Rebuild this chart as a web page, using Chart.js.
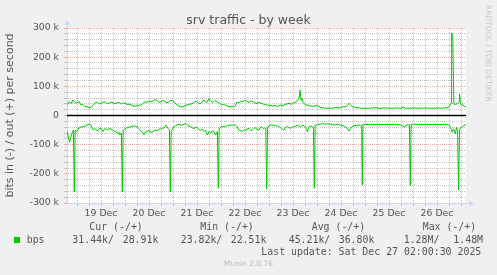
<!DOCTYPE html>
<html><head><meta charset="utf-8">
<script src="https://cdn.jsdelivr.net/npm/chart.js@4.4.1/dist/chart.umd.min.js"></script>
<style>
html,body{margin:0;padding:0;background:#f0f0f0;width:497px;height:275px;overflow:hidden;position:relative;}
canvas{position:absolute;left:0;top:0;}
.t{position:absolute;white-space:pre;color:#555;}
.mono{font-family:'DejaVu Sans Mono',monospace;font-size:9.9px;line-height:12px;}
</style></head><body>
<canvas id="c" width="497" height="275"></canvas>
<div class="t" style="left:0;width:497px;text-align:center;top:12px;font-family:'DejaVu Sans';font-size:12.5px;line-height:15px;">srv traffic - by week</div>
<div class="t" style="left:484px;top:5px;font-family:'DejaVu Sans';font-size:7.5px;line-height:9px;color:#c8c8c8;writing-mode:vertical-rl;">RRDTOOL / TOBI OETIKER</div>
<div id="legend"></div>
<script>
// x values are hours counted from 19 Dec 00:00
const dayLabels = ['19 Dec','20 Dec','21 Dec','22 Dec','23 Dec','24 Dec','25 Dec','26 Dec'];
const yTickLabels = {300:'300 k',200:'200 k',100:'100 k',0:'0','-100':'-100 k','-200':'-200 k','-300':'-300 k'};

// out (+) series, in k bits/s
const outHours = [-5,-4,-3,-2,-1,0,1,2,3,4,5,6,7,8,9,10,11,12,13,14,15,16,17,18,19,20,21,22,23,24,25,26,27,28,29,30,31,32,33,34,35,36,37,38,39,40,41,42,43,44,45,46,47,48,49,50,51,52,53,54,55,56,57,58,59,60,61,62,63,64,65,66,67,68,69,70,71,72,73,74,75,76,77,78,79,80,81,82,83,84,85,86,87,88,89,90,91,92,93,94,95,96,98,99,100,101,102,103,104,105,106,107,108,109,110,111,111.5,112,112.5,113,114,115,116,117,118,119,120,121,122,123,124,126,128,129,130,131,132,133,134,135,136,137,138,139,140,141,142,144,146,148,150,151,152,154,156,158,160,162,163.5,164,166,168,170,172,174,176,178,180,182,184,185.5,186,187,187.3,187.9,188.4,189,190,191,191.3,191.7,192,193,194,194.5];
const outK = [36,47,40,53,45,43,48,36,38,30,31,27,28,34,44,47,40,41,46,47,40,42,46,44,40,44,45,39,43,42,38,39,37,33,32,33,35,36,42,47,45,50,46,50,54,52,45,47,52,47,44,47,52,51,42,36,32,29,30,34,36,38,40,42,48,47,40,42,52,50,45,57,48,45,52,47,44,38,39,36,33,30,30,30,32,47,44,50,46,53,48,45,50,47,43,41,45,42,40,36,37,34,33,35,31,33,36,34,38,40,42,38,42,45,50,60,87,52,59,45,38,36,34,33,31,34,34,30,27,26,25,25,25,27,27,26,27,30,29,33,42,35,30,28,27,26,25,25,25,26,27,24,25,26,25,25,26,25,29,25,25,26,25,25,26,25,25,26,25,26,27,30,42,283,270,40,38,40,48,74,40,38,36,30,29];

// in (-) series, in k bits/s
const inHours = [-5,-4.5,-3.7,-2.8,-2.2,-1.8,-1.35,-0.9,0,1,2,3,4,4.5,5,6,7,8,9,10,11,12,13,14,15,16,17,18,18.5,19,20,21,21.5,22.2,22.65,23.1,24,25,26,27,28.5,30,31,32,33,33.5,34,35,36,37,38,38.5,39,40,41,42,43,43.5,44,44.5,45.5,46.2,46.65,47.1,48,48.5,49.3,50,51,52,52.7,54.3,55.2,56,56.8,57.5,58.5,59.5,60.2,61,61.8,62.5,63.5,64.2,65.2,66,66.8,67.5,68.5,69.3,70.2,70.65,71.1,72,72.7,74.3,76,77.7,79.3,80,81,82,82.7,83.5,84.3,85,86,87,87.7,88.5,89.3,90,91,91.6,92.2,93,93.5,94.4,94.85,95.3,96,96.8,98.5,99.3,100.2,101,101.8,102.7,103.5,104.3,105.2,106,106.8,107.6,108.5,109.3,110.2,111,111.8,112.6,113.5,114.3,115.2,116,117,117.7,118.2,118.65,119.1,120,121,122,122.7,124.3,125.5,126.8,128.5,130.2,131.8,133,133.5,134.3,135.2,136,136.8,137.6,138.5,140.2,141.8,142.3,142.65,143,144,146,148,150,152,154,156,158,160,162,163.5,164.5,165.5,166.2,166.65,167.1,168,170,172,174,176,178,180,182,184,185.5,186,186.8,187.5,188.3,189.2,189.8,190.3,190.75,191.3,192.4,193.5,194.5];
const inK = [-55,-67,-92,-67,-55,-50,-262,-50,-55,-42,-40,-38,-36,-35,-33,-30,-33,-50,-44,-53,-46,-44,-55,-44,-50,-45,-46,-50,-55,-52,-61,-58,-67,-60,-262,-50,-46,-42,-40,-38,-35,-38,-45,-53,-60,-67,-58,-55,-50,-59,-55,-53,-48,-53,-47,-46,-42,-44,-38,-33,-44,-50,-262,-55,-45,-38,-35,-33,-30,-32,-33,-27,-33,-36,-38,-42,-44,-40,-42,-48,-50,-46,-55,-50,-67,-55,-61,-52,-55,-67,-55,-250,-44,-40,-38,-38,-33,-33,-33,-38,-50,-53,-55,-48,-53,-46,-44,-52,-50,-44,-42,-48,-50,-42,-38,-45,-42,-45,-252,-40,-36,-33,-33,-35,-36,-38,-42,-46,-50,-40,-38,-42,-44,-40,-38,-36,-33,-36,-38,-34,-35,-42,-55,-38,-36,-38,-40,-250,-33,-32,-30,-29,-27,-30,-28,-30,-33,-30,-33,-35,-38,-40,-44,-53,-44,-38,-35,-33,-33,-35,-238,-30,-31,-30,-31,-30,-31,-30,-31,-30,-31,-32,-40,-34,-32,-32,-240,-31,-30,-30,-31,-30,-31,-30,-31,-31,-30,-31,-32,-40,-57,-46,-63,-40,-52,-254,-46,-40,-34,-32];

const zeroLine = [0, 0];
const xRange = [-5, 194.5];

const legendRows = [
  {y:227.3, items:[[89.3,'Cur (-/+)'],[200.3,'Min (-/+)'],[311.7,'Avg (-/+)'],[422.7,'Max (-/+)']]},
  {y:240, items:[[26.7,'bps'],[72.3,'31.44k/'],[122.7,'28.91k'],[180.7,'23.82k/'],[230.7,'22.51k'],[288.7,'45.21k/'],[338.7,'36.80k'],[403.7,'1.28M/'],[453.3,'1.48M']]},
  {y:251.7, items:[[261.3,'Last update: Sat Dec 27 02:00:30 2025']]}
];

const lg = document.getElementById('legend');
legendRows.forEach(r => r.items.forEach(([x, s]) => {
  const d = document.createElement('div');
  d.className = 't mono'; d.style.left = x + 'px'; d.style.top = (r.y - 6) + 'px'; d.textContent = s;
  lg.appendChild(d);
}));
const sq = document.createElement('div');
sq.style.cssText = 'position:absolute;left:14px;top:237px;width:6px;height:6px;background:#00cc00;';
lg.appendChild(sq);
const mu = document.createElement('div');
mu.className = 't';
mu.style.cssText = 'left:0;width:497px;text-align:center;top:259px;font-family:"DejaVu Sans";font-size:7.5px;line-height:10px;color:#bbb;';
mu.textContent = 'Munin 2.0.76';
lg.appendChild(mu);

const GRID = 'rgba(150,150,150,0.55)';
const MGRID = 'rgba(222,110,110,0.55)';
const AXIS = '#CFD6F8';

const bgPlugin = {id:'bg', beforeDraw(chart){const {ctx, chartArea:a}=chart; ctx.save(); ctx.fillStyle='#fff'; ctx.fillRect(a.left,a.top,a.right-a.left,a.bottom-a.top); ctx.restore();}};
const arrowPlugin = {id:'arrows', afterDraw(chart){
  const {ctx, chartArea:a} = chart;
  ctx.save(); ctx.strokeStyle = AXIS; ctx.fillStyle = AXIS; ctx.lineWidth = 1;
  const lx = Math.round(a.left) + 0.5, by = Math.round(a.bottom) + 0.5;
  ctx.beginPath(); ctx.moveTo(lx, a.top); ctx.lineTo(lx, a.top - 4); ctx.moveTo(a.right, by); ctx.lineTo(a.right + 4, by); ctx.stroke();
  ctx.beginPath(); ctx.moveTo(lx - 3, a.top - 3); ctx.lineTo(lx + 3, a.top - 3); ctx.lineTo(lx, a.top - 8); ctx.closePath(); ctx.fill();
  ctx.beginPath(); ctx.moveTo(a.right + 3, by - 3); ctx.lineTo(a.right + 3, by + 3); ctx.lineTo(a.right + 8, by); ctx.closePath(); ctx.fill();
  ctx.restore();
}};

const xTicks = []; for (let h = 0; h <= 192; h += 6) xTicks.push(h);
const yTicks = []; for (let v = -300; v <= 300; v += 20) yTicks.push(v);

new Chart(document.getElementById('c'), {
  type: 'line',
  data: { datasets: [
    {data: xRange.map((x,i)=>({x, y: zeroLine[i]})), borderColor:'#000', borderWidth:1.5, pointRadius:0},
    {data: outHours.map((x,i)=>({x, y: outK[i]})), borderColor:'#00cc00', borderWidth:1, pointRadius:0, tension:0},
    {data: inHours.map((x,i)=>({x, y: inK[i]})), borderColor:'#00cc00', borderWidth:1, pointRadius:0, tension:0}
  ]},
  options: {
    responsive:false, animation:false, devicePixelRatio:1,
    layout:{padding:{left:0,right:31,top:28,bottom:52}},
    plugins:{legend:{display:false}, tooltip:{enabled:false}},
    scales:{
      x:{type:'linear', min:xRange[0], max:xRange[1],
        afterBuildTicks: s => { s.ticks = xTicks.map(v=>({value:v})); },
        afterFit: s => { s.height = 20; },
        grid:{color: c => (c.tick && c.tick.value % 24 === 0) ? MGRID : GRID, tickColor: c => (c.tick && c.tick.value % 24 === 0) ? MGRID : GRID, tickLength:3, tickBorderDash:[], lineWidth:1},
        border:{color:AXIS, dash:[1,1]},
        ticks:{autoSkip:false, maxRotation:0, padding:2, color:'#555', font:{family:'DejaVu Sans', size:9.3},
          callback: v => ((v - 12) % 24 === 0 ? dayLabels[(v - 12) / 24] : '')}
      },
      y:{type:'linear', min:-300, max:300,
        afterBuildTicks: s => { s.ticks = yTicks.map(v=>({value:v})); },
        afterFit: s => { s.width = 67; },
        grid:{color: c => { const v = c.tick ? c.tick.value : 1; return v === 0 ? 'rgba(0,0,0,0)' : (v % 100 === 0 ? MGRID : GRID); },
              tickColor: c => { const v = c.tick ? c.tick.value : 1; return v % 100 === 0 ? MGRID : GRID; }, tickLength:3, tickBorderDash:[], lineWidth:1},
        border:{color:AXIS, dash:[1,1]},
        ticks:{autoSkip:false, padding:5, color:'#555', font:{family:'DejaVu Sans', size:9.3},
          callback: v => (yTickLabels[v] !== undefined ? yTickLabels[v] : '')},
        title:{display:true, text:'bits in (-) / out (+) per second', color:'#555', font:{family:'DejaVu Sans', size:11}, padding:{top:4, bottom:0}}
      }
    }
  },
  plugins:[bgPlugin, arrowPlugin]
});
</script>
</body></html>
